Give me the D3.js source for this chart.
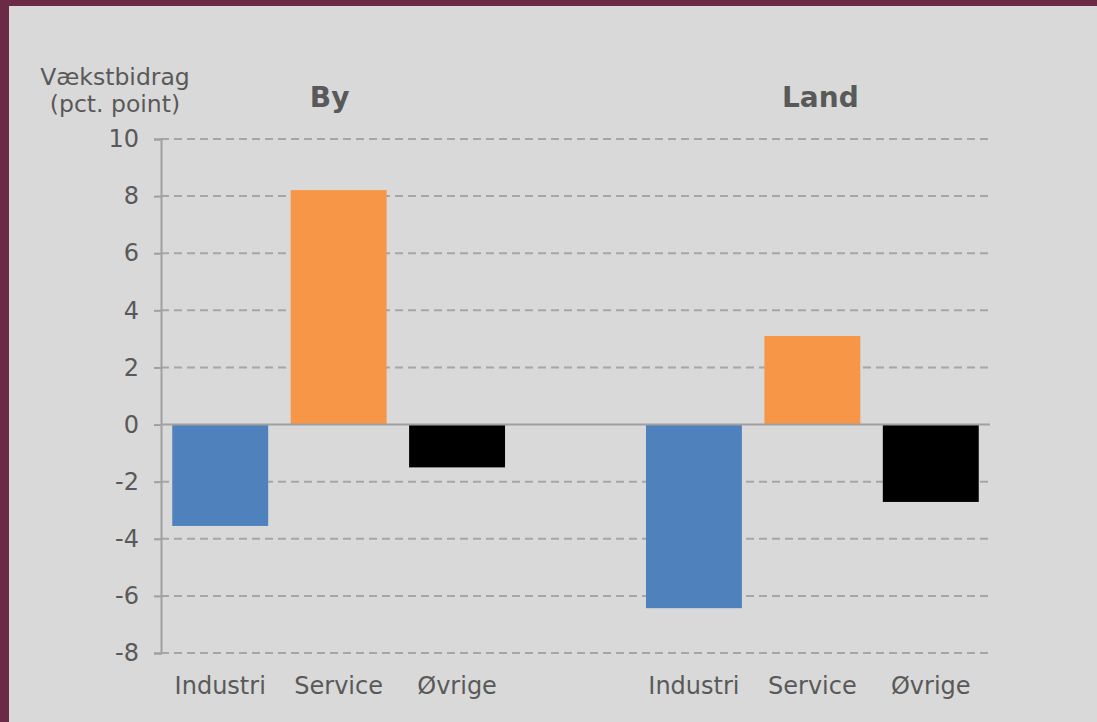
<!DOCTYPE html>
<html><head><meta charset="utf-8">
<script src="https://cdn.jsdelivr.net/npm/d3@7"></script>
<style>
html,body{margin:0;padding:0;background:#d9d9d9;}
svg{display:block;}
text{font-family:"DejaVu Sans",Verdana,sans-serif;fill:#595959;}
</style></head>
<body><svg id="c" width="1097" height="722"></svg>
<script>
const categories = ["Industri","Service","Øvrige","","Industri ","Service ","Øvrige "];
const labels = ["Industri","Service","Øvrige","","Industri","Service","Øvrige"];
const values = [-3.55, 8.21, -1.5, null, -6.43, 3.1, -2.71];
const barColors = ["#4f81bd","#f79646","#000000",null,"#4f81bd","#f79646","#000000"];
const yTicks = [-8,-6,-4,-2,0,2,4,6,8,10];
const groupTitles = ["By","Land"];
const groupTitleAt = [1,5];

const svg = d3.select("#c");
svg.append("rect").attr("width",1097).attr("height",722).attr("fill","#d9d9d9");
svg.append("rect").attr("x",0).attr("y",0).attr("width",1097).attr("height",6).attr("fill","#6b2b47");
svg.append("rect").attr("x",0).attr("y",0).attr("width",9).attr("height",722).attr("fill","#6b2b47");

const x0 = 161, x1 = 990, yTop = 139, yBot = 653;
const x = d3.scaleBand().domain(categories).range([x0,x1]).paddingInner(0.19).paddingOuter(0.095);
const y = d3.scaleLinear().domain([-8,10]).range([yBot,yTop]);
const FONT = "'DejaVu Sans',Verdana,sans-serif";

// gridlines
svg.append("g").selectAll("line").data(yTicks.filter(t=>t!==0)).join("line")
  .attr("x1",x0).attr("x2",x1).attr("y1",d=>y(d)).attr("y2",d=>y(d))
  .attr("stroke","#a6a6a6").attr("stroke-width",2).attr("stroke-dasharray","8,5");

// bars
svg.append("g").selectAll("rect").data(categories.map((c,i)=>({c,v:values[i],col:barColors[i]})).filter(d=>d.v!==null)).join("rect")
  .attr("x",d=>x(d.c)).attr("width",x.bandwidth())
  .attr("y",d=>y(Math.max(0,d.v))).attr("height",d=>Math.abs(y(d.v)-y(0)))
  .attr("fill",d=>d.col);

// zero line
svg.append("line").attr("x1",x0).attr("x2",x1).attr("y1",y(0)).attr("y2",y(0))
  .attr("stroke","#a0a0a0").attr("stroke-width",2);

// y axis
const yAxis = d3.axisLeft(y).tickValues(yTicks).tickSize(7).tickPadding(15).tickFormat(d=>String(d));
const gy = svg.append("g").attr("transform",`translate(${x0},0)`).call(yAxis);
gy.select(".domain").attr("stroke","#a0a0a0").attr("stroke-width",2);
gy.selectAll(".tick line").attr("stroke","#a0a0a0").attr("stroke-width",2);
gy.selectAll(".tick text").style("font-size","24px").attr("fill","#595959").style("font-family",FONT);

// x axis labels
const xAxis = d3.axisBottom(x).tickSize(0).tickPadding(24).tickFormat((d,i)=>labels[i]);
const gx = svg.append("g").attr("transform",`translate(0,${yBot})`).call(xAxis);
gx.select(".domain").remove();
gx.selectAll(".tick text").style("font-size","24px").attr("fill","#595959").style("font-family",FONT);

// y label
svg.append("text").attr("x",115).attr("y",85).attr("text-anchor","middle").style("font-size","23.5px").text("Vækstbidrag");
svg.append("text").attr("x",115).attr("y",112).attr("text-anchor","middle").style("font-size","23.5px").text("(pct. point)");

// group titles
const titleShift = [-9, 8];
svg.append("g").selectAll("text").data(groupTitles).join("text")
  .attr("x",(d,i)=>x(categories[groupTitleAt[i]])+x.bandwidth()/2+titleShift[i]).attr("y",107)
  .attr("text-anchor","middle").style("font-size","28px").style("font-weight","bold")
  .text(d=>d);
</script></body></html>
